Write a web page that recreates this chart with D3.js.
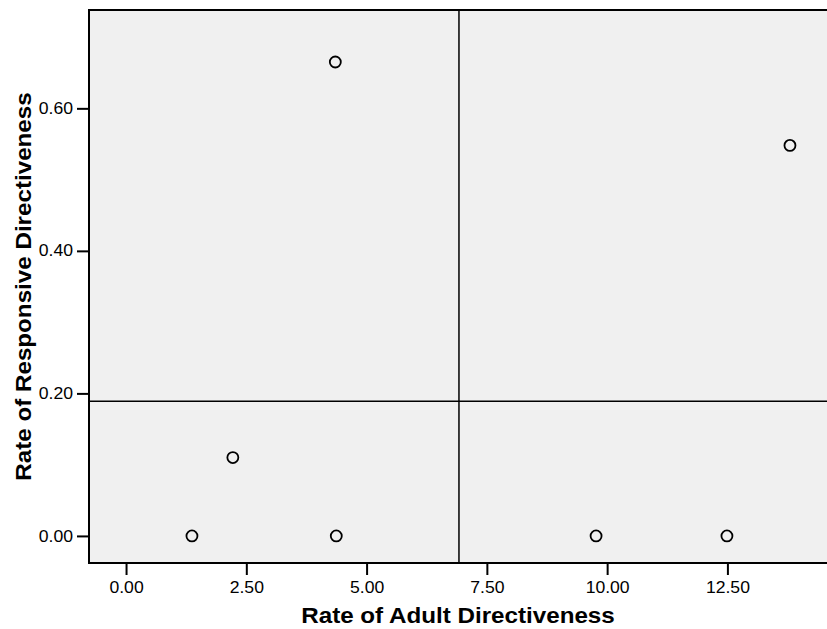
<!DOCTYPE html>
<html>
<head>
<meta charset="utf-8">
<script src="https://cdn.jsdelivr.net/npm/d3@7"></script>
<style>
  body { margin: 0; background: #fff; }
  svg text { font-family: "Liberation Sans", Arial, sans-serif; }
</style>
</head>
<body>
<script>
// data
var adultDir = [1.37, 2.22, 4.35, 4.37, 9.77, 12.49, 13.8];
var respDir  = [0.00, 0.11, 0.665, 0.00, 0.00, 0.00, 0.548];
var xTicks = [0, 2.5, 5, 7.5, 10, 12.5];
var yTicks = [0, 0.2, 0.4, 0.6];
var refX = 6.92;   // vertical reference line
var refY = 0.189;  // horizontal reference line

var W = 827, H = 629;
var plot = {left: 89, top: 10, right: 827, bottom: 563};
var stretch = 1.1; // the original text is a bit wide

var svg = d3.select("body").append("svg")
    .attr("width", W)
    .attr("height", H);

var x = d3.scaleLinear()
    .domain([-0.77, 14.57])
    .range([plot.left, plot.right]);

var y = d3.scaleLinear()
    .domain([-0.038, 0.738])
    .range([plot.bottom, plot.top]);

// plot background
svg.append("rect")
    .attr("x", plot.left)
    .attr("y", plot.top)
    .attr("width", plot.right - plot.left)
    .attr("height", plot.bottom - plot.top)
    .style("fill", "#f0f0f0");

// reference lines
svg.append("line")
    .attr("x1", x(refX)).attr("x2", x(refX))
    .attr("y1", plot.top).attr("y2", plot.bottom)
    .style("stroke", "#000").style("stroke-width", 1.5);
svg.append("line")
    .attr("x1", plot.left).attr("x2", plot.right)
    .attr("y1", y(refY)).attr("y2", y(refY))
    .style("stroke", "#000").style("stroke-width", 1.5);

// frame: top, left, bottom (right side runs off the image)
svg.append("path")
    .attr("d", "M" + plot.right + "," + plot.top + "H" + plot.left + "V" + plot.bottom + "H" + plot.right)
    .style("fill", "none")
    .style("stroke", "#000")
    .style("stroke-width", 2);

// X axis
var xAxis = svg.append("g")
    .attr("transform", "translate(0," + (plot.bottom + 1) + ")")
    .call(d3.axisBottom(x).tickValues(xTicks).tickSize(11)
      .tickFormat(d3.format(".2f")));
xAxis.select(".domain").remove();
xAxis.selectAll(".tick line").style("stroke-width", 2);
xAxis.selectAll("text")
    .attr("y", 29)
    .attr("dy", 0)
    .attr("transform", "scale(" + stretch + ",1)")
    .style("font-size", "16px")
    .style("fill", "#000");

// Y axis
var yAxis = svg.append("g")
    .attr("transform", "translate(" + (plot.left - 1) + ",0)")
    .call(d3.axisLeft(y).tickValues(yTicks).tickSize(11)
      .tickFormat(d3.format(".2f")));
yAxis.select(".domain").remove();
yAxis.selectAll(".tick line").style("stroke-width", 2);
yAxis.selectAll("text")
    .attr("x", -15 / stretch)
    .attr("transform", "scale(" + stretch + ",1)")
    .style("font-size", "16px")
    .style("fill", "#000");

// points
svg.append("g")
  .selectAll("circle")
  .data(adultDir)
  .enter()
  .append("circle")
    .attr("cx", function(d) { return x(d); })
    .attr("cy", function(d, i) { return y(respDir[i]); })
    .attr("r", 5.5)
    .style("fill", "none")
    .style("stroke", "#000")
    .style("stroke-width", 1.8);

// axis titles
svg.append("text")
    .attr("transform", "translate(" + ((plot.left + plot.right) / 2) + ",623) scale(" + stretch + ",1)")
    .attr("text-anchor", "middle")
    .style("font-size", "22px")
    .style("font-weight", "bold")
    .text("Rate of Adult Directiveness");

svg.append("text")
    .attr("transform", "translate(31," + ((plot.top + plot.bottom) / 2) + ") rotate(-90) scale(" + stretch + ",1)")
    .attr("text-anchor", "middle")
    .style("font-size", "22px")
    .style("font-weight", "bold")
    .text("Rate of Responsive Directiveness");
</script>
</body>
</html>
